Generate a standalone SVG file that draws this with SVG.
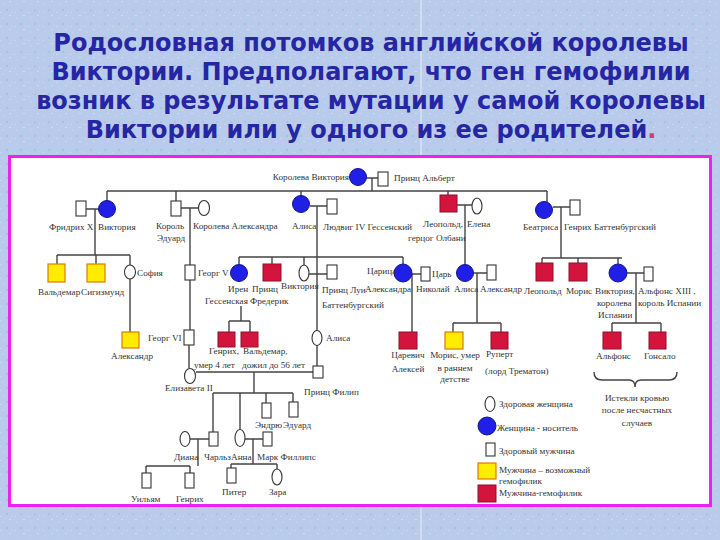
<svg xmlns="http://www.w3.org/2000/svg" width="720" height="540" viewBox="0 0 720 540">
<defs>
<style>
.ttl{font-family:"DejaVu Sans","Noto Sans",sans-serif;font-weight:bold;font-size:24px;fill:#2626a4;text-anchor:middle}
.t{font-family:"Liberation Serif","DejaVu Serif",serif;font-size:9.2px;fill:#333}
.tm{font-family:"Liberation Serif","DejaVu Serif",serif;font-size:9.2px;fill:#333;text-anchor:middle}
.ln{stroke:#444;stroke-width:1.4;fill:none}
.f{fill:#fff;stroke:#333;stroke-width:1.1}
.m{fill:#fff;stroke:#333;stroke-width:1.1}
.c{fill:#1f1fe6;stroke:#15158a;stroke-width:1}
.y{fill:#ffec00;stroke:#e07800;stroke-width:1.2}
.h{fill:#d4143c;stroke:#8a1028;stroke-width:1}
</style>
<pattern id="bg" width="14" height="14" patternUnits="userSpaceOnUse">
<rect width="14" height="14" fill="#b9cbea"/>
<rect x="2" y="3" width="2" height="2" fill="#d8c8ec" opacity="0.7"/>
<rect x="9" y="1" width="2" height="1" fill="#e2ddf5" opacity="0.7"/>
<rect x="6" y="9" width="2" height="2" fill="#a8bde4" opacity="0.8"/>
<rect x="11" y="11" width="1" height="2" fill="#dccaea" opacity="0.7"/>
<rect x="0" y="12" width="2" height="1" fill="#c9d7f0" opacity="0.8"/>
</pattern>
</defs>
<rect width="720" height="540" fill="url(#bg)"/>
<line x1="421" y1="0" x2="421" y2="540" stroke="#e8eefa" stroke-width="1"/>
<g id="title">
<text class="ttl" x="371" y="51">Родословная потомков английской королевы</text>
<text class="ttl" x="371" y="80">Виктории. Предполагают, что ген гемофилии</text>
<text class="ttl" x="371" y="109">возник в результате мутации у самой королевы</text>
<text class="ttl" x="371" y="138">Виктории или у одного из ее родителей<tspan fill="#c8407a">.</tspan></text>
</g>
<rect id="frame" x="9.5" y="156.5" width="701" height="349" fill="#fff" stroke="#f020f0" stroke-width="3"/>
<g id="connectors">
<path class="ln" d="M366,178H378M372,178V191M107,191H547M107,191V201M176,191V201M301,191V196M448,191V195M547,191V202"/>
<path class="ln" d="M86,209H99M95,209V255M57,255H130M57,255V264M96,255V264M130,255V265M130,279V332"/>
<path class="ln" d="M181,208H198M190,208V265M190,280V330M189,345V368"/>
<path class="ln" d="M196,372H313M254,372V393M213,393H293M213,393V432M240,393V430M266,393V403M293,393V402"/>
<path class="ln" d="M190,439H209M198,439V466M146,466H190M146,466V473M190,466V473"/>
<path class="ln" d="M245,439H263M253,439V464M231,464H277M231,464V468M277,464V469"/>
<path class="ln" d="M310,206H327M317,206V330M239,257H403M239,257V264M272,257V264M304,257V265M403,257V264M309,274H327M317,345V366"/>
<path class="ln" d="M241,306V321M229,321H250M229,321V332M250,321V332"/>
<path class="ln" d="M412,274H421M412,274V332"/>
<path class="ln" d="M457,205H472M465,205V264M474,273H487M477,273V323M453,323H501M453,323V332M501,323V332"/>
<path class="ln" d="M553,207H570M561,207V258M542,258H622M542,258V263M578,258V263M618,258V264M627,273H644M636,273V323M612,323H661M612,323V332M661,323V332"/>
<path class="ln" d="M594,372q0,8 8,8h27q6,0 6,7q0,-7 6,-7h28q8,0 8,-8" stroke-width="1.2"/>
</g>
<g id="queen-victoria"><circle class="c" cx="358" cy="177" r="8.5"/><text class="t" x="349" y="180" text-anchor="end">Королева Виктория</text></g>
<g id="albert"><rect class="m" x="378" y="172" width="10" height="14"/><text class="t" x="394" y="181">Принц Альберт</text></g>
<g id="friedrich"><rect class="m" x="76" y="201" width="10" height="15"/><text class="t" x="49" y="230">Фридрих X</text></g>
<g id="victoria-g2"><circle class="c" cx="107" cy="209" r="8.5"/><text class="t" x="98" y="230">Виктория</text></g>
<g id="edward"><rect class="m" x="171" y="201" width="10" height="15"/><text class="t" x="156" y="229">Король</text><text class="t" x="157" y="241">Эдуард</text></g>
<g id="alexandra-q"><ellipse class="f" cx="204" cy="208" rx="5.5" ry="7.5"/><text class="t" x="193" y="229">Королева Александра</text></g>
<g id="alice-hesse"><circle class="c" cx="301" cy="204" r="8.5"/><text class="t" x="292" y="229">Алиса</text></g>
<g id="ludwig"><rect class="m" x="327" y="199" width="10" height="15"/><text class="t" x="323" y="230">Людвиг IV Гессенский</text></g>
<g id="leopold-albany"><rect class="h" x="440" y="195" width="17" height="17"/><text class="t" x="423" y="227">Леопольд,</text><text class="t" x="408" y="241">герцог Олбани</text></g>
<g id="elena"><ellipse class="f" cx="477" cy="206" rx="5" ry="8"/><text class="t" x="467" y="227">Елена</text></g>
<g id="beatrice"><circle class="c" cx="544" cy="210" r="8.5"/><text class="t" x="523" y="230">Беатриса</text></g>
<g id="henry-b"><rect class="m" x="570" y="200" width="10" height="15"/><text class="t" x="564" y="230">Генрих Баттенбургский</text></g>
<g id="waldemar-p"><rect class="y" x="48" y="264" width="17" height="18"/><text class="t" x="38" y="295">Вальдемар</text></g>
<g id="sigismund"><rect class="y" x="87" y="264" width="18" height="18"/><text class="t" x="81" y="295">Сигизмунд</text></g>
<g id="sophia"><ellipse class="f" cx="130" cy="272" rx="5.5" ry="7"/><text class="t" x="137" y="276">София</text></g>
<g id="alexander-g"><rect class="y" x="122" y="332" width="17" height="16"/><text class="t" x="111" y="359">Александр</text></g>
<g id="george5"><rect class="m" x="185" y="265" width="10" height="15"/><text class="t" x="198" y="276">Георг V</text></g>
<g id="george6"><rect class="m" x="184" y="330" width="10" height="15"/><text class="t" x="148" y="341">Георг VI</text></g>
<g id="elizabeth2"><ellipse class="f" cx="190" cy="376" rx="5.5" ry="7.5"/><text class="t" x="165" y="391">Елизавета II</text></g>
<g id="philip"><rect class="m" x="313" y="366" width="10" height="12"/><text class="t" x="304" y="395">Принц Филип</text></g>
<g id="irene"><circle class="c" cx="239" cy="273" r="8.5"/><text class="t" x="228" y="292">Ирен</text><text class="t" x="205" y="304">Гессенская</text></g>
<g id="frederick"><rect class="h" x="263" y="264" width="18" height="17"/><text class="t" x="252" y="292">Принц</text><text class="t" x="250" y="304">Фредерик</text></g>
<g id="victoria-hesse"><ellipse class="f" cx="304" cy="273" rx="5" ry="8"/><text class="t" x="281" y="289">Виктория</text></g>
<g id="louis"><rect class="m" x="327" y="265" width="10" height="14"/><text class="t" x="322" y="293">Принц Луи</text><text class="t" x="322" y="308">Баттенбургский</text></g>
<g id="henry-prussia"><rect class="h" x="218" y="332" width="17" height="15"/><text class="t" x="209" y="354">Генрих,</text><text class="t" x="194" y="368">умер 4 лет</text></g>
<g id="waldemar-prussia"><rect class="h" x="241" y="332" width="17" height="15"/><text class="t" x="243" y="354">Вальдемар,</text><text class="t" x="242" y="368">дожил до 56 лет</text></g>
<g id="alice-b"><ellipse class="f" cx="317" cy="338" rx="5" ry="7.5"/><text class="t" x="326" y="341">Алиса</text></g>
<g id="tsaritsa"><circle class="c" cx="403" cy="273" r="9"/><text class="t" x="367" y="274">Царица</text><text class="t" x="365" y="292">Александра</text></g>
<g id="nicholas"><rect class="m" x="421" y="267" width="9" height="14"/><text class="t" x="432" y="277">Царь</text><text class="t" x="416" y="292">Николай</text></g>
<g id="alexei"><rect class="h" x="399" y="332" width="18" height="17"/><text class="tm" x="408" y="358">Царевич</text><text class="tm" x="408" y="372">Алексей</text></g>
<g id="alice-athlone"><circle class="c" cx="465" cy="273" r="8.5"/><text class="t" x="454" y="292">Алиса</text></g>
<g id="alexander-a"><rect class="m" x="487" y="265" width="9" height="15"/><text class="t" x="480" y="292">Александр</text></g>
<g id="maurice-a"><rect class="y" x="445" y="332" width="18" height="17"/><text class="tm" x="455" y="358">Морис, умер</text><text class="tm" x="455" y="371">в раннем</text><text class="tm" x="455" y="382">детстве</text></g>
<g id="rupert"><rect class="h" x="491" y="332" width="17" height="17"/><text class="t" x="486" y="357">Руперт</text><text class="t" x="485" y="374">(лорд Трематон)</text></g>
<g id="leopold-b"><rect class="h" x="536" y="263" width="17" height="18"/><text class="t" x="524" y="294">Леопольд</text></g>
<g id="maurice-b"><rect class="h" x="569" y="263" width="18" height="18"/><text class="t" x="566" y="294">Морис</text></g>
<g id="victoria-spain"><circle class="c" cx="618" cy="273" r="9"/><text class="t" x="595" y="294">Виктория,</text><text class="t" x="597" y="306">королева</text><text class="t" x="598" y="318">Испании</text></g>
<g id="alfonso13"><rect class="m" x="644" y="267" width="9" height="14"/><text class="t" x="638" y="294">Альфонс XIII ,</text><text class="t" x="638" y="306">король Испании</text></g>
<g id="alfonso"><rect class="h" x="603" y="332" width="18" height="17"/><text class="t" x="596" y="359">Альфонс</text></g>
<g id="gonzalo"><rect class="h" x="649" y="332" width="17" height="17"/><text class="t" x="644" y="359">Гонсало</text></g>
<g id="bled-note"><text class="tm" x="637" y="401">Истекли кровью</text><text class="tm" x="637" y="413">после несчастных</text><text class="tm" x="637" y="426">случаев</text></g>
<g id="charles"><rect class="m" x="209" y="432" width="9" height="14"/><text class="t" x="204" y="460">Чарльз</text></g>
<g id="diana"><ellipse class="f" cx="185" cy="439" rx="5" ry="7.5"/><text class="t" x="174" y="460">Диана</text></g>
<g id="anne"><ellipse class="f" cx="240" cy="438" rx="5" ry="8.5"/><text class="t" x="231" y="460">Анна</text></g>
<g id="mark"><rect class="m" x="263" y="432" width="9" height="14"/><text class="t" x="257" y="460">Марк Филлипс</text></g>
<g id="andrew"><rect class="m" x="262" y="403" width="9" height="15"/><text class="t" x="255" y="428">Эндрю</text></g>
<g id="edward-p"><rect class="m" x="289" y="402" width="9" height="15"/><text class="t" x="283" y="428">Эдуард</text></g>
<g id="william"><rect class="m" x="142" y="473" width="9" height="15"/><text class="t" x="131" y="502">Уильям</text></g>
<g id="harry"><rect class="m" x="185" y="473" width="9" height="15"/><text class="t" x="176" y="502">Генрих</text></g>
<g id="peter"><rect class="m" x="227" y="468" width="9" height="15"/><text class="t" x="222" y="495">Питер</text></g>
<g id="zara"><ellipse class="f" cx="277" cy="477" rx="5" ry="8"/><text class="t" x="269" y="495">Зара</text></g>
<g id="legend">
<ellipse class="f" cx="490" cy="404" rx="5" ry="7.5"/><text class="t" x="499" y="407">Здоровая женщина</text>
<circle class="c" cx="487" cy="426" r="9"/><text class="t" x="497" y="431">Женщина - носитель</text>
<rect class="m" x="486" y="443" width="9" height="13"/><text class="t" x="499" y="454">Здоровый мужчина</text>
<rect class="y" x="478" y="463" width="18" height="16"/><text class="t" x="499" y="473">Мужчина – возможный</text><text class="t" x="499" y="484">гемофилик</text>
<rect class="h" x="478" y="485" width="18" height="17"/><text class="t" x="499" y="496">Мужчина-гемофилик</text>
</g>
</svg>
